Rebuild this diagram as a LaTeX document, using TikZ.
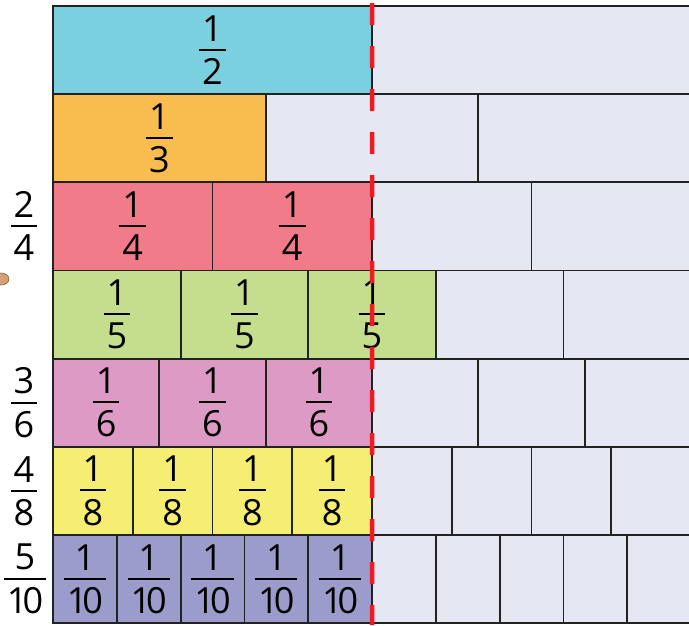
\documentclass[tikz,border=0pt]{standalone}
\usepackage{fontspec}
\setmainfont{Open Sans}
\usepackage{tikz}
\usetikzlibrary{positioning}
\definecolor{wallhalf}{RGB}{123,208,224}
\definecolor{wallthird}{RGB}{248,188,79}
\definecolor{wallquarter}{RGB}{242,123,138}
\definecolor{wallfifth}{RGB}{197,222,142}
\definecolor{wallsixth}{RGB}{221,154,197}
\definecolor{walleighth}{RGB}{245,238,114}
\definecolor{walltenth}{RGB}{155,156,203}
\definecolor{wallempty}{RGB}{229,231,243}
\definecolor{wallline}{RGB}{34,34,34}
\definecolor{halfred}{RGB}{237,28,36}
\definecolor{handtan}{RGB}{214,160,118}
\tikzset{
  cell/.style={rectangle, draw=wallline, line width=1.8pt,
    minimum height=88.15pt, anchor=north west, inner sep=0pt, outer sep=0pt,
    font=\fontsize{36}{40}\selectfont},
  sidefrac/.style={inner sep=0pt, font=\fontsize{36}{40}\selectfont},
  halfline/.style={halfred, line width=4.5pt, dash pattern=on 22pt off 21pt}
}
% stacked fraction in the text font
\newcommand{\fr}[2]{\vbox{\offinterlineskip\halign{\hfil\kern3pt##\kern3pt\hfil\cr
  #1\cr\noalign{\kern7.5pt}\omit\leaders\hrule height 2pt\hfill\cr\noalign{\kern7.5pt}#2\cr}}}
\newcommand{\tenth}{1\kern-5pt0}
\begin{document}
\begin{tikzpicture}[x=1pt, y=-1pt]
  \useasboundingbox (0,0) rectangle (689,625);

  % Wall rows: denominator / filled parts / colour
  \foreach \den/\nfill/\col [count=\r] in {2/1/wallhalf, 3/1/wallthird, 4/2/wallquarter,
      5/3/wallfifth, 6/3/wallsixth, 8/4/walleighth, {\tenth}/5/walltenth}{
    \ifnum\r=7 \def\parts{10}\else \let\parts\den \fi
    \pgfmathsetmacro{\w}{638/\parts}
    \pgfmathsetmacro{\ytop}{6+(\r-1)*88.15}
    \foreach \j in {1,...,\parts}{
      \pgfmathsetmacro{\xl}{53+(\j-1)*\w}
      \ifnum\j>\nfill
        \node[cell, fill=wallempty, minimum width=\w*1pt] (c\r-\j) at (\xl,\ytop) {};
      \else
        \node[cell, fill=\col, minimum width=\w*1pt] (c\r-\j) at (\xl,\ytop) {\fr{1}{\den}};
      \fi
    }
  }

  % Equivalent fractions on the left
  \node[sidefrac] (eq24) at ([xshift=-29pt]c3-1.west) {\fr{2}{4}};
  \node[sidefrac] (eq36) at ([xshift=-29pt]c5-1.west) {\fr{3}{6}};
  \node[sidefrac] (eq48) at ([xshift=-29pt]c6-1.west) {\fr{4}{8}};
  \node[sidefrac] (eq510) at ([xshift=-28pt]c7-1.west) {\fr{5}{\tenth}};

  % Half line
  \draw[halfline] ([yshift=3pt]c1-1.north east) -- ([yshift=-2pt]c7-5.south east);

  % edge of the hand
  \draw[fill=handtan, draw=handtan!60!black, line width=0.6pt] (1,279) ellipse (8 and 6);
\end{tikzpicture}
\end{document}
